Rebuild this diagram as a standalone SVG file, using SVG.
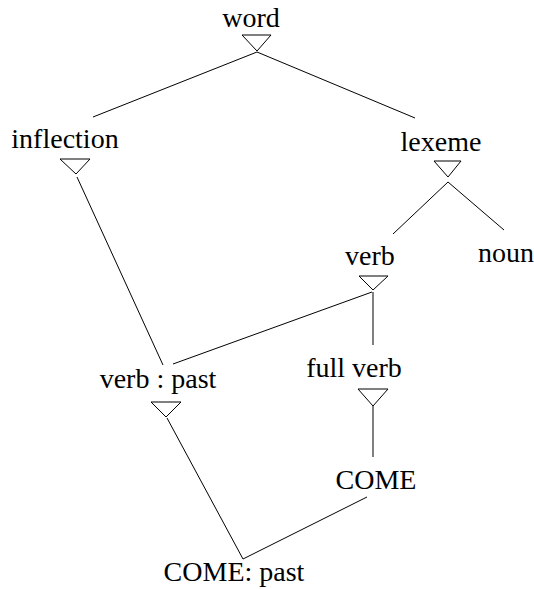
<svg xmlns="http://www.w3.org/2000/svg" width="534" height="589" viewBox="0 0 534 589">
  <style>
    text { font-family: 'Liberation Serif', 'Times New Roman', Times, serif; font-size: 28px; fill: #000; text-anchor: middle; }
    .isa { fill: none; stroke: #000; stroke-width: 1; }
    .link { fill: none; stroke: #000; stroke-width: 1; }
  </style>
  <rect width="534" height="589" fill="#fff"/>

  <!-- connectors -->
  <g id="connectors">
    <line class="link" x1="257" y1="52" x2="93" y2="117"/>
    <line class="link" x1="257" y1="52" x2="415" y2="118"/>
    <line class="link" x1="77" y1="177" x2="163" y2="365"/>
    <line class="link" x1="448" y1="182" x2="393" y2="234"/>
    <line class="link" x1="448" y1="182" x2="504" y2="230"/>
    <line class="link" x1="372" y1="292" x2="173" y2="364"/>
    <line class="link" x1="373" y1="292" x2="373" y2="345"/>
    <line class="link" x1="373" y1="406" x2="373" y2="457"/>
    <polyline class="link" points="167,418 243,559 367,497"/>
  </g>

  <!-- nodes: label plus open "isa" triangle below -->
  <g id="word">
    <text x="251" y="27">word</text>
    <polygon class="isa" points="242,35 271,35 257,51"/>
  </g>
  <g id="inflection">
    <text x="65" y="148">inflection</text>
    <polygon class="isa" points="60,159 90,159 76,174"/>
  </g>
  <g id="lexeme">
    <text x="441" y="151">lexeme</text>
    <polygon class="isa" points="434,161 461,161 448,177"/>
  </g>
  <g id="verb">
    <text x="370" y="265">verb</text>
    <polygon class="isa" points="359,276 388,276 373,290"/>
  </g>
  <g id="noun">
    <text x="506" y="262">noun</text>
  </g>
  <g id="verb-past">
    <text x="158" y="388">verb : past</text>
    <polygon class="isa" points="151,402 181,402 166,417"/>
  </g>
  <g id="full-verb">
    <text x="354" y="377">full verb</text>
    <polygon class="isa" points="358,389 388,389 373,406"/>
  </g>
  <g id="come">
    <text x="376" y="489">COME</text>
  </g>
  <g id="come-past">
    <text x="234" y="581">COME: past</text>
  </g>
</svg>
